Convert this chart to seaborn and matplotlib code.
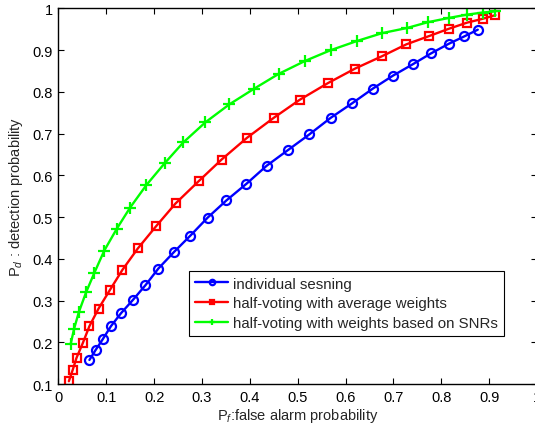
import pandas as pd
import matplotlib.pyplot as plt
import matplotlib.ticker as mticker
import seaborn as sns


sns.set_theme(style="ticks", rc={
    'xtick.direction': 'in',
    'ytick.direction': 'in',
    'xtick.top': True,
    'ytick.right': True,
    'axes.linewidth': 1.0,
})
plt.rcParams['font.family'] = ['Liberation Sans', 'DejaVu Sans']
plt.rcParams['mathtext.fontset'] = 'custom'
plt.rcParams['mathtext.rm'] = 'Liberation Sans'
plt.rcParams['mathtext.it'] = 'Liberation Sans:italic'

# ROC points
pf_individual = [0.065, 0.078, 0.093, 0.110, 0.131, 0.156, 0.182, 0.209, 0.242, 0.276,
                 0.312, 0.351, 0.393, 0.435, 0.480, 0.524, 0.569, 0.614, 0.657, 0.699,
                 0.740, 0.778, 0.815, 0.848, 0.876]
pd_individual = [0.158, 0.182, 0.208, 0.239, 0.270, 0.302, 0.337, 0.377, 0.417, 0.456,
                 0.499, 0.540, 0.580, 0.623, 0.661, 0.698, 0.738, 0.773, 0.808, 0.839,
                 0.866, 0.892, 0.915, 0.933, 0.949]

pf_average = [0.022, 0.030, 0.038, 0.051, 0.065, 0.084, 0.108, 0.134, 0.166, 0.204,
              0.245, 0.293, 0.341, 0.394, 0.450, 0.504, 0.563, 0.620, 0.677, 0.727,
              0.775, 0.815, 0.854, 0.886, 0.913]
pd_average = [0.107, 0.134, 0.163, 0.198, 0.239, 0.281, 0.326, 0.374, 0.425, 0.478,
              0.533, 0.586, 0.638, 0.690, 0.738, 0.781, 0.821, 0.856, 0.886, 0.914,
              0.934, 0.951, 0.966, 0.975, 0.984]

pf_snr = [0.026, 0.033, 0.043, 0.058, 0.075, 0.096, 0.122, 0.150, 0.184, 0.222,
          0.261, 0.307, 0.357, 0.408, 0.460, 0.515, 0.569, 0.624, 0.677, 0.728,
          0.772, 0.815, 0.853, 0.886, 0.913]
pd_snr = [0.197, 0.233, 0.273, 0.320, 0.366, 0.420, 0.472, 0.523, 0.577, 0.629,
          0.679, 0.727, 0.770, 0.807, 0.843, 0.874, 0.900, 0.922, 0.941, 0.953,
          0.967, 0.977, 0.985, 0.990, 0.993]

labels = ['individual sesning',
          'half-voting with average weights',
          'half-voting with weights based on SNRs']

x_ticks = [0, 0.1, 0.2, 0.3, 0.4, 0.5, 0.6, 0.7, 0.8, 0.9, 1]
y_ticks = [0.1, 0.2, 0.3, 0.4, 0.5, 0.6, 0.7, 0.8, 0.9, 1]

fig = plt.figure(figsize=(5.35, 4.27), dpi=100)
ax = fig.add_axes([0.109, 0.098, 0.895, 0.880])

sns.lineplot(x=pf_individual, y=pd_individual, color='#0000ff', marker='o',
             mfc='none', mec='#0000ff', mew=1.6, markersize=6.5, linewidth=1.7,
             label=labels[0], ax=ax)
sns.lineplot(x=pf_average, y=pd_average, color='#ff0000', marker='s',
             mfc='none', mec='#ff0000', mew=1.6, markersize=5.5, linewidth=1.7,
             label=labels[1], ax=ax)
sns.lineplot(x=pf_snr, y=pd_snr, color='#00ff00', marker='+',
             mec='#00ff00', mew=1.6, markersize=8, linewidth=1.7,
             label=labels[2], ax=ax)

ax.set_xlim(0, 1)
ax.set_ylim(0.1, 1)
ax.set_xticks(x_ticks)
ax.set_yticks(y_ticks)
ax.xaxis.set_major_formatter(mticker.FormatStrFormatter('%g'))
ax.yaxis.set_major_formatter(mticker.FormatStrFormatter('%g'))
ax.tick_params(labelsize=10.5, length=4, width=0.8, colors='black', pad=4)

ax.set_xlabel('P$_f$:false alarm probability', fontsize=10.5, labelpad=2)
ax.set_ylabel('P$_d$ : detection probability', fontsize=10.5, labelpad=5)

leg = ax.legend(loc='upper right', bbox_to_anchor=(0.93, 0.302), fontsize=10.8,
                frameon=True, fancybox=False, framealpha=1, edgecolor='black',
                markerscale=0.6, handlelength=2.2, handletextpad=0.3,
                borderpad=0.4, labelspacing=0.38, borderaxespad=0)
leg.get_frame().set_linewidth(0.8)

for spine in ax.spines.values():
    spine.set_color('black')

plt.savefig('out.png', dpi=100)
